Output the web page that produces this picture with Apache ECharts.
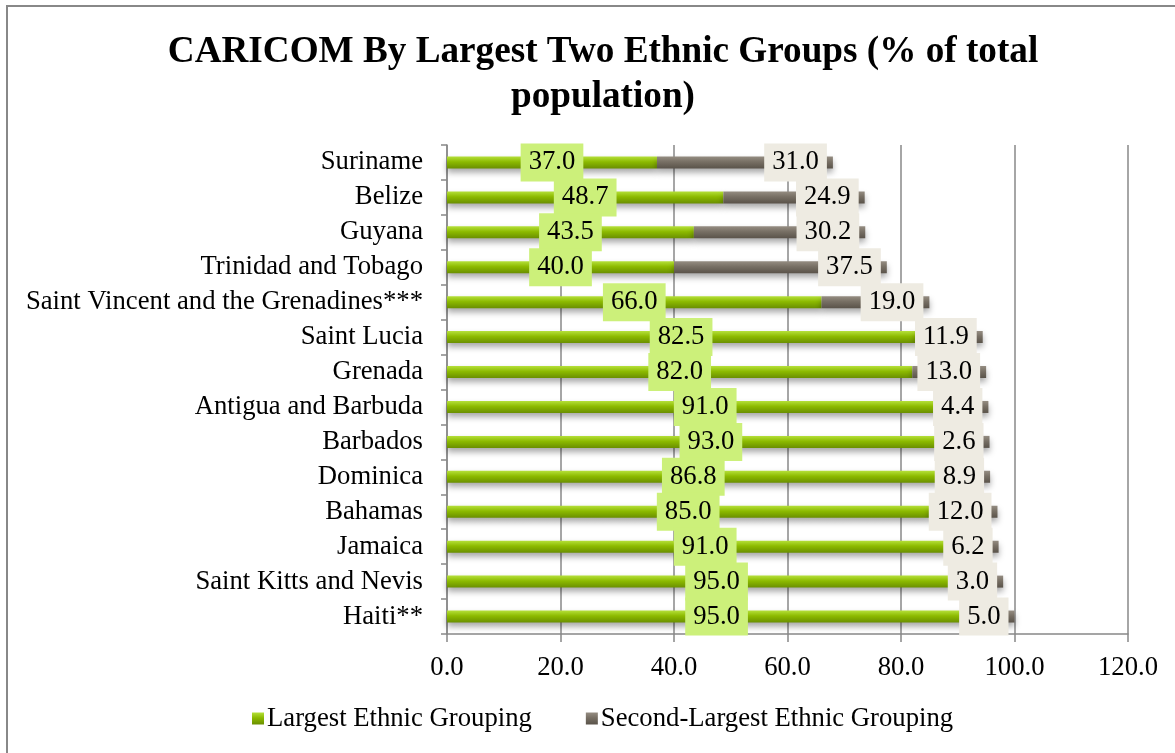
<!DOCTYPE html>
<html>
<head>
<meta charset="utf-8">
<script src="https://cdn.jsdelivr.net/npm/echarts@6/dist/echarts.min.js"></script>
<style>html,body{margin:0;padding:0;background:#fff;}#c{width:1175px;height:753px;}</style>
</head>
<body>
<div id="c"></div>
<script>
const categories = ["Suriname","Belize","Guyana","Trinidad and Tobago","Saint Vincent and the Grenadines***","Saint Lucia","Grenada","Antigua and Barbuda","Barbados","Dominica","Bahamas","Jamaica","Saint Kitts and Nevis","Haiti**"];
const largest = [37.0,48.7,43.5,40.0,66.0,82.5,82.0,91.0,93.0,86.8,85.0,91.0,95.0,95.0];
const second = [31.0,24.9,30.2,37.5,19.0,11.9,13.0,4.4,2.6,8.9,12.0,6.2,3.0,5.0];
const xTicks = [0,20,40,60,80,100,120];

const FONT = "Liberation Serif";
const FS = 26.7;
const chart = echarts.init(document.getElementById('c'), null, {renderer:'canvas'});
const grad = (a,b,c) => new echarts.graphic.LinearGradient(0,0,0,1,[{offset:0,color:a},{offset:0.45,color:b},{offset:1,color:c}]);
chart.setOption({
  animation:false,
  backgroundColor:'#fff',
  graphic:[{type:'rect',shape:{x:7,y:6,width:1300,height:900},style:{fill:'none',stroke:'#888',lineWidth:2},silent:true}],
  title:{
    text:'CARICOM By Largest Two Ethnic Groups (% of total\npopulation)',
    left:598, textAlign:'center', top:25,
    textStyle:{fontFamily:FONT,fontWeight:'bold',fontSize:37.2,color:'#000',lineHeight:45}
  },
  legend:{
    bottom:16, left:247,
    itemWidth:12,itemHeight:12,itemGap:54,icon:'rect',
    textStyle:{fontFamily:FONT,fontSize:FS,color:'#000',padding:[0,0,0,-2]},
    data:['Largest Ethnic Grouping','Second-Largest Ethnic Grouping']
  },
  grid:{left:447,right:47,top:145,bottom:119,containLabel:false},
  xAxis:{
    type:'value',min:xTicks[0],max:xTicks[xTicks.length-1],interval:20,
    axisLine:{show:true,lineStyle:{color:'#888',width:1.5}},
    axisTick:{show:true,length:8,lineStyle:{color:'#888',width:1.5}},
    splitLine:{show:true,lineStyle:{color:'#888',width:1.5}},
    axisLabel:{fontFamily:FONT,fontSize:FS,color:'#000',margin:20,formatter:v=>v.toFixed(1)}
  },
  yAxis:{
    type:'category',data:categories,inverse:true,
    axisLine:{show:true,lineStyle:{color:'#888',width:1.5}},
    axisTick:{show:true,length:6,lineStyle:{color:'#888',width:1.5}},
    axisLabel:{fontFamily:FONT,fontSize:FS,color:'#000',margin:24,interval:0}
  },
  series:[
    {
      name:'Largest Ethnic Grouping',type:'bar',stack:'a',barWidth:12,data:largest,
      itemStyle:{color:grad('#b5e03a','#8cba00','#6a8f00'),shadowColor:'rgba(0,0,0,0.35)',shadowBlur:6,shadowOffsetY:4},
      label:{show:true,position:'inside',formatter:p=>p.value.toFixed(1),fontFamily:FONT,fontSize:FS,color:'#000',
        backgroundColor:'#ccf07a',padding:[7,8,4,8]}
    },
    {
      name:'Second-Largest Ethnic Grouping',type:'bar',stack:'a',barWidth:12,data:second,
      itemStyle:{color:grad('#958d82','#776f64','#5a534a'),shadowColor:'rgba(0,0,0,0.35)',shadowBlur:6,shadowOffsetY:4},
      label:{show:true,position:'insideRight',distance:6,formatter:p=>p.value.toFixed(1),fontFamily:FONT,fontSize:FS,color:'#000',
        backgroundColor:'#eeebe2',padding:[7,8,4,8]}
    }
  ]
});
</script>
</body>
</html>
